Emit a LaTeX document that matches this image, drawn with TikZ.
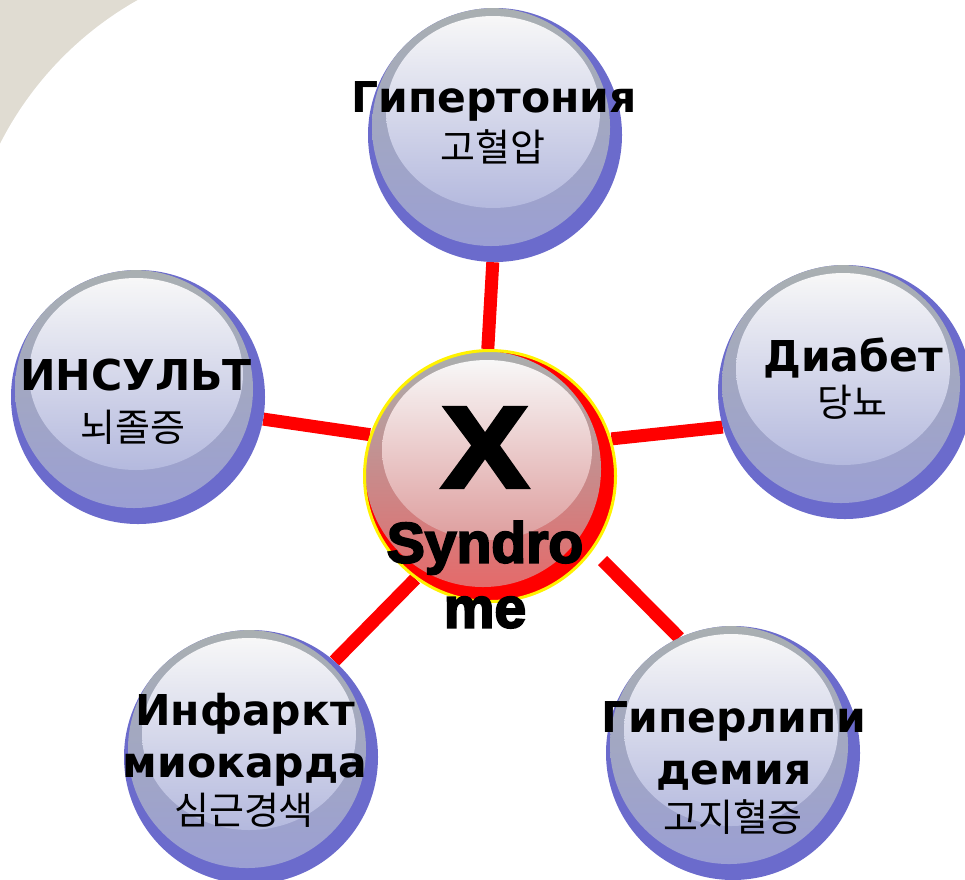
\documentclass[tikz,border=0pt]{standalone}
\usepackage{fontspec}
\newfontfamily\rufont{DejaVu Sans}
\newfontfamily\krfont{Noto Sans CJK KR}
\newfontfamily\xfont[FakeBold=3.5]{Liberation Sans}
\usetikzlibrary{backgrounds}

\definecolor{cornerbg}{HTML}{E0DCD2}
\definecolor{ballrim}{HTML}{6B6BCC}
\definecolor{ringtop}{HTML}{A9AFB1}
\definecolor{ringbot}{HTML}{9A9ED6}
\definecolor{glowbot}{HTML}{B4B9DE}
\definecolor{redtop}{HTML}{A9AFAF}
\definecolor{redbot}{HTML}{E86666}
\definecolor{redglow}{HTML}{DE9E9E}

\begin{document}
\begin{tikzpicture}[x=1pt,y=-1pt,
  link/.style={red,line width=13pt},
  blueball/.style={circle,fill=ballrim,minimum size=254pt,inner sep=0pt,
    path picture={
      \shade[top color=ringtop,bottom color=ringbot]
        ([shift={(-4,-8)}]path picture bounding box.center) circle (119);
      \shade[top color=white!97!black,bottom color=glowbot]
        ([shift={(-2,-23)}]path picture bounding box.center) ellipse (107 and 96);}},
  xsball/.style={circle,fill=red,draw=yellow,line width=3pt,minimum size=251pt,inner sep=0pt,
    path picture={
      \shade[top color=redtop,bottom color=redbot]
        ([shift={(-7,-7)}]path picture bounding box.center) circle (118);
      \shade[top color=white!97!black,bottom color=redglow]
        ([shift={(-3,-26)}]path picture bounding box.center) ellipse (105 and 90);}},
  rutext/.style={font=\rufont\bfseries\fontsize{42.5}{52}\selectfont,align=center,anchor=north,inner sep=0pt},
  krtext/.style={font=\krfont\fontsize{38}{44}\selectfont,anchor=base,inner sep=0pt},
  xtext/.style={font=\xfont\bfseries\fontsize{57}{65}\selectfont,align=center,inner sep=0pt}]
\useasboundingbox (0,0) rectangle (965,879);
\clip (0,0) rectangle (965,879);

% balls
\node[xsball] (xs) at (490,476) {};
\node[blueball] (htn) at (495,135) {};
\node[blueball] (ins) at (138,397) {};
\node[blueball] (dia) at (845,392) {};
\node[blueball] (inf) at (251,757) {};
\node[blueball] (hyp) at (733,753) {};

\begin{pgfonlayer}{background}
\fill[cornerbg] (0,0) rectangle (310,300);
\fill[white] (306,299) circle (343);
\draw[link] (xs.91) -- (htn.269);
\draw[link] (xs.161) -- (ins.-10);
\draw[link] (xs.17) -- (dia.196);
\draw[link] (xs.234) -- (inf.49);
\draw[link,shorten <=14pt] (xs.-36) -- (hyp.115);
\end{pgfonlayer}

% labels
\node[rutext] (htn-ru) at (494,81) {Гипертония};
\node[krtext] (htn-kr) at (493,161) {고혈압};
\node[rutext] (ins-ru) at (136,359) {ИНСУЛЬТ};
\node[krtext] (ins-kr) at (133,441) {뇌졸증};
\node[rutext] (dia-ru) at (853,338) {Диабет};
\node[krtext] (dia-kr) at (852,416) {당뇨};
\node[rutext] (inf-ru) at (245,693) {Инфаркт\\миокарда};
\node[krtext] (inf-kr) at (244,824) {심근경색};
\node[rutext] (hyp-ru) at (734,701) {Гиперлипи\\демия};
\node[krtext] (hyp-kr) at (733,831) {고지혈증};
\node[xtext,font=\xfont\bfseries\fontsize{115}{120}\selectfont,xscale=1.12,anchor=base] (xs-x) at (485,487) {X};
\node[xtext,anchor=north] (xs-name) at (485,521) {Syndro\\me};
\end{tikzpicture}
\end{document}
